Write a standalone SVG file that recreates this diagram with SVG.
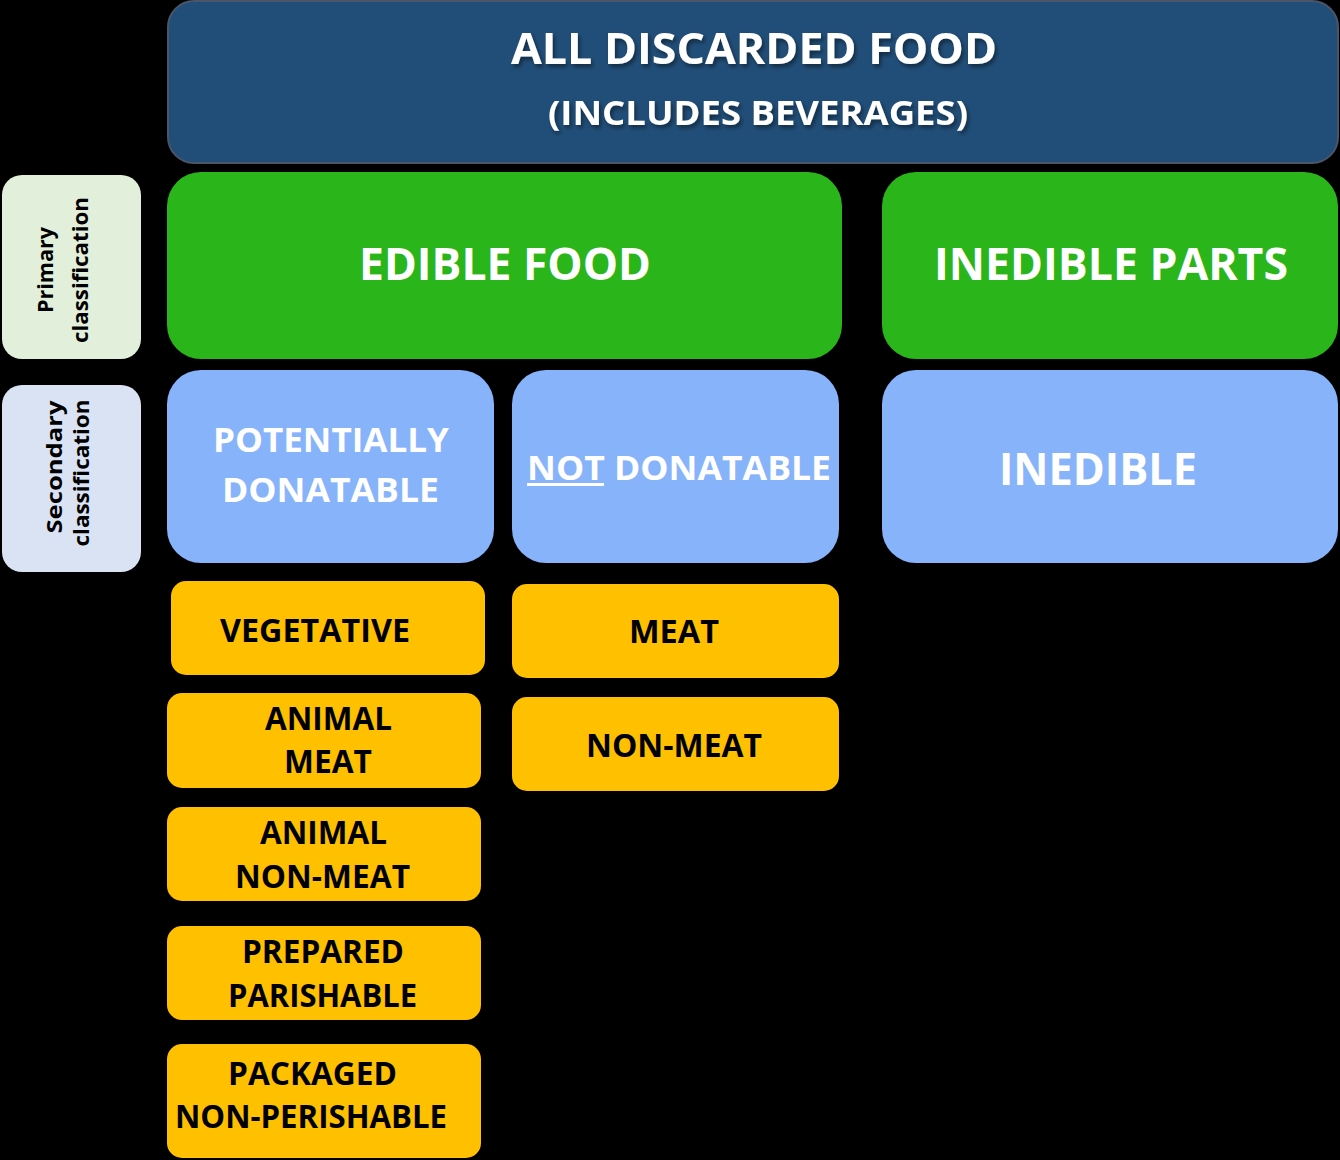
<svg xmlns="http://www.w3.org/2000/svg" width="1340" height="1160" viewBox="0 0 1340 1160">
<defs>
<filter id="sh" x="-10%" y="-30%" width="120%" height="160%">
<feDropShadow dx="2" dy="3" stdDeviation="2" flood-color="#000" flood-opacity="0.45"/>
</filter>
</defs>
<style>
text{font-family:"Open Sans","Liberation Sans",sans-serif;font-weight:bold;text-anchor:middle}
.w{fill:#fff}
.k{fill:#000}
.side{font-size:22px;fill:#000}
.y{fill:#FFC000}
.b{fill:#87B3FA}
.g{fill:#2AB51A}
.t32{font-size:32px}
.t34{font-size:34px}
.t45{font-size:45px}
</style>
<rect width="1340" height="1160" fill="#000"/>
<g id="header">
<rect x="168" y="1" width="1170" height="162" rx="26" fill="#214E78" stroke="#4A5568" stroke-width="2"/>
<text class="w" x="754" y="64" font-size="43" textLength="486" lengthAdjust="spacingAndGlyphs" filter="url(#sh)">ALL DISCARDED FOOD</text>
<text class="w" x="758" y="125" font-size="34" textLength="420" lengthAdjust="spacingAndGlyphs" filter="url(#sh)">(INCLUDES BEVERAGES)</text>
</g>
<g id="primary-label">
<rect x="2" y="175" width="139" height="184" rx="20" fill="#E2EFDA"/>
<text class="side" transform="translate(53,270) rotate(-90)" textLength="86" lengthAdjust="spacingAndGlyphs">Primary</text>
<text class="side" transform="translate(88,270) rotate(-90)" textLength="146" lengthAdjust="spacingAndGlyphs">classification</text>
</g>
<g id="secondary-label">
<rect x="2" y="385" width="139" height="187" rx="20" fill="#DAE3F3"/>
<text class="side" transform="translate(62,467) rotate(-90)" textLength="133" lengthAdjust="spacingAndGlyphs">Secondary</text>
<text class="side" transform="translate(89,473) rotate(-90)" textLength="147" lengthAdjust="spacingAndGlyphs">classification</text>
</g>
<g id="edible-food">
<rect class="g" x="167" y="172" width="675" height="187" rx="34"/>
<text class="w t45" x="505" y="280" textLength="292" lengthAdjust="spacingAndGlyphs">EDIBLE FOOD</text>
</g>
<g id="inedible-parts">
<rect class="g" x="882" y="172" width="456" height="187" rx="34"/>
<text class="w t45" x="1111" y="280" textLength="354" lengthAdjust="spacingAndGlyphs">INEDIBLE PARTS</text>
</g>
<g id="potentially-donatable">
<rect class="b" x="167" y="370" width="327" height="193" rx="34"/>
<text class="w t34" x="331" y="452" textLength="236" lengthAdjust="spacingAndGlyphs">POTENTIALLY</text>
<text class="w t34" x="330.5" y="502" textLength="217" lengthAdjust="spacingAndGlyphs">DONATABLE</text>
</g>
<g id="not-donatable">
<rect class="b" x="512" y="370" width="327" height="193" rx="34"/>
<text class="w t34" x="679" y="480" textLength="304" lengthAdjust="spacingAndGlyphs">NOT DONATABLE</text>
<rect x="527" y="483" width="77" height="3" fill="#fff"/>
</g>
<g id="inedible">
<rect class="b" x="882" y="370" width="456" height="193" rx="34"/>
<text class="w t45" x="1098" y="485" textLength="198" lengthAdjust="spacingAndGlyphs">INEDIBLE</text>
</g>
<g id="vegetative">
<rect class="y" x="171" y="581" width="314" height="94" rx="15"/>
<text class="k t32" x="315" y="642" textLength="190" lengthAdjust="spacingAndGlyphs">VEGETATIVE</text>
</g>
<g id="animal-meat">
<rect class="y" x="167" y="693" width="314" height="95" rx="15"/>
<text class="k t32" x="328.5" y="730" textLength="127" lengthAdjust="spacingAndGlyphs">ANIMAL</text>
<text class="k t32" x="328" y="773" textLength="88" lengthAdjust="spacingAndGlyphs">MEAT</text>
</g>
<g id="animal-non-meat">
<rect class="y" x="167" y="807" width="314" height="94" rx="15"/>
<text class="k t32" x="323.5" y="844" textLength="127" lengthAdjust="spacingAndGlyphs">ANIMAL</text>
<text class="k t32" x="322.5" y="888" textLength="175" lengthAdjust="spacingAndGlyphs">NON-MEAT</text>
</g>
<g id="prepared-parishable">
<rect class="y" x="167" y="926" width="314" height="94" rx="15"/>
<text class="k t32" x="323" y="963" textLength="162" lengthAdjust="spacingAndGlyphs">PREPARED</text>
<text class="k t32" x="322.5" y="1007" textLength="189" lengthAdjust="spacingAndGlyphs">PARISHABLE</text>
</g>
<g id="packaged-non-perishable">
<rect class="y" x="167" y="1044" width="314" height="114" rx="15"/>
<text class="k t32" x="312.5" y="1085" textLength="169" lengthAdjust="spacingAndGlyphs">PACKAGED</text>
<text class="k t32" x="311" y="1128" textLength="272" lengthAdjust="spacingAndGlyphs">NON-PERISHABLE</text>
</g>
<g id="meat">
<rect class="y" x="512" y="584" width="327" height="94" rx="15"/>
<text class="k t32" x="674" y="643" textLength="90" lengthAdjust="spacingAndGlyphs">MEAT</text>
</g>
<g id="non-meat">
<rect class="y" x="512" y="697" width="327" height="94" rx="15"/>
<text class="k t32" x="674" y="757" textLength="176" lengthAdjust="spacingAndGlyphs">NON-MEAT</text>
</g>
<g id="connectors"></g>
</svg>
